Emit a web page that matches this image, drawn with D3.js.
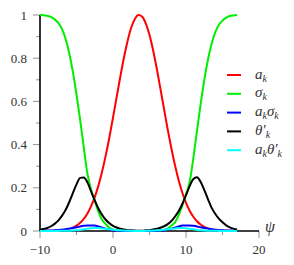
<!DOCTYPE html>
<html>
<head>
<meta charset="utf-8">
<script src="https://cdn.jsdelivr.net/npm/d3@7"></script>
<style>
  body { margin: 0; background: #fff; }
  text { font-family: "Liberation Serif", "Times New Roman", serif; }
</style>
</head>
<body>
<div id="chart"></div>
<script>
// psi grid, values
const psi = [-10, -9.5, -9, -8.5, -8, -7.5, -7, -6.5, -6, -5.5, -5, -4.5, -4, -3.5, -3, -2.5, -2, -1.5, -1, -0.5,
  0, 0.5, 1, 1.5, 2, 2.5, 3, 3.5, 4, 4.5, 5, 5.5, 6, 6.5, 7, 7.5, 8, 8.5, 9, 9.5,
  10, 10.5, 11, 11.5, 12, 12.5, 13, 13.5, 14, 14.5, 15, 15.5, 16, 16.5, 17];

const aK = [0, 0.0002, 0.0004, 0.0007, 0.0012, 0.002, 0.0037, 0.0062, 0.010, 0.016, 0.025, 0.038, 0.056, 0.081, 0.115, 0.157, 0.21, 0.274, 0.349, 0.433,
  0.525, 0.62, 0.714, 0.803, 0.88, 0.942, 0.982, 1.0, 0.992, 0.96, 0.907, 0.836, 0.751, 0.658, 0.563, 0.469, 0.382, 0.303, 0.234, 0.177,
  0.130, 0.094, 0.066, 0.045, 0.030, 0.019, 0.012, 0.0076, 0.0046, 0.0027, 0.0016, 0.0009, 0.0005, 0.0003, 0.0001];

const sigmaK = [1.0, 0.999, 0.996, 0.991, 0.98, 0.964, 0.936, 0.89, 0.824, 0.738, 0.632, 0.514, 0.386, 0.264, 0.192, 0.14, 0.09, 0.052, 0.032, 0.015,
  0.007, 0.003, 0.001, 0, 0, 0, 0, 0, 0, 0, 0, 0, 0.001, 0.002, 0.005, 0.011, 0.025, 0.04, 0.073, 0.12,
  0.17, 0.228, 0.336, 0.464, 0.586, 0.698, 0.792, 0.866, 0.92, 0.954, 0.974, 0.988, 0.995, 0.998, 1.0];

const aSigma = [0.001, 0.0015, 0.002, 0.0025, 0.003, 0.004, 0.006, 0.008, 0.011, 0.014, 0.017, 0.021, 0.024, 0.026, 0.026, 0.025, 0.021, 0.016, 0.011, 0.007,
  0.004, 0.002, 0.001, 0, 0, 0, 0, 0, 0, 0, 0, 0, 0.001, 0.002, 0.004, 0.007, 0.011, 0.016, 0.021, 0.025,
  0.026, 0.026, 0.024, 0.021, 0.017, 0.014, 0.011, 0.008, 0.006, 0.004, 0.003, 0.0025, 0.002, 0.0015, 0.001];

const thetaK = [0.006, 0.009, 0.014, 0.022, 0.033, 0.048, 0.07, 0.097, 0.133, 0.175, 0.216, 0.246, 0.248, 0.225, 0.183, 0.142, 0.104, 0.075, 0.052, 0.036,
  0.024, 0.016, 0.01, 0.007, 0.004, 0.003, 0.002, 0.001, 0.001, 0.003, 0.004, 0.007, 0.011, 0.015, 0.022, 0.032, 0.046, 0.067, 0.092, 0.125,
  0.166, 0.208, 0.24, 0.249, 0.228, 0.19, 0.148, 0.108, 0.08, 0.057, 0.04, 0.026, 0.017, 0.011, 0.007];

const aTheta = [0, 0, 0, 0, 0, 0.0005, 0.0008, 0.001, 0.0015, 0.002, 0.003, 0.005, 0.008, 0.011, 0.013, 0.014, 0.014, 0.012, 0.01, 0.008,
  0.006, 0.004, 0.003, 0.002, 0.001, 0.001, 0, 0, 0, 0.001, 0.001, 0.002, 0.003, 0.004, 0.006, 0.008, 0.01, 0.012, 0.014, 0.014,
  0.013, 0.011, 0.008, 0.005, 0.003, 0.002, 0.0015, 0.001, 0.0008, 0.0005, 0, 0, 0, 0, 0];

const xTicks = [-10, 0, 10, 20];
const xMinor = [-5, 5, 15];
const yTicks = [0, 0.2, 0.4, 0.6, 0.8, 1];
const yMinor = [0.1, 0.3, 0.5, 0.7, 0.9];

// legend labels as [text, kind] parts: "b" base, "sub" subscript
const series = [
  { values: aK, color: "#ff0000", label: [["a", "b"], ["k", "sub"]] },
  { values: sigmaK, color: "#00ee00", label: [["σ", "b"], ["k", "sub"]] },
  { values: aSigma, color: "#0000ff", label: [["a", "b"], ["k", "sub"], ["σ", "b"], ["k", "sub"]] },
  { values: thetaK, color: "#000000", label: [["θ′", "b"], ["k", "sub"]] },
  { values: aTheta, color: "#00ffff", label: [["a", "b"], ["k", "sub"], ["θ′", "b"], ["k", "sub"]] }
];

const W = 294, H = 265;
const svg = d3.select("#chart").append("svg")
  .attr("width", W).attr("height", H);

const x = d3.scaleLinear().domain([-10, 20]).range([40, 259]);
const y = d3.scaleLinear().domain([0, 1]).range([231, 15]);

const tickCol = "#777", labCol = "#333";

// y ticks
svg.selectAll(".ytick").data(yTicks).enter().append("line")
  .attr("x1", x(-10) - 7).attr("x2", x(-10))
  .attr("y1", d => y(d)).attr("y2", d => y(d))
  .attr("stroke", tickCol).attr("stroke-width", 0.8);
svg.selectAll(".yminor").data(yMinor).enter().append("line")
  .attr("x1", x(-10) - 4).attr("x2", x(-10))
  .attr("y1", d => y(d)).attr("y2", d => y(d))
  .attr("stroke", tickCol).attr("stroke-width", 0.8);
svg.selectAll(".ylab").data(yTicks).enter().append("text")
  .attr("x", 27).attr("y", d => y(d) + 4.5)
  .attr("text-anchor", "end").attr("font-size", 13).attr("fill", labCol)
  .text(d => d3.format("")(d));

// x ticks
svg.selectAll(".xtick").data(xTicks).enter().append("line")
  .attr("x1", d => x(d)).attr("x2", d => x(d))
  .attr("y1", y(0)).attr("y2", y(0) + 7)
  .attr("stroke", tickCol).attr("stroke-width", 0.8);
svg.selectAll(".xminor").data(xMinor).enter().append("line")
  .attr("x1", d => x(d)).attr("x2", d => x(d))
  .attr("y1", y(0)).attr("y2", y(0) + 4)
  .attr("stroke", tickCol).attr("stroke-width", 0.8);
svg.selectAll(".xlab").data(xTicks).enter().append("text")
  .attr("x", d => x(d)).attr("y", 254)
  .attr("text-anchor", "middle").attr("font-size", 13).attr("fill", labCol)
  .text(d => d < 0 ? "\u2212" + Math.abs(d) : d);

// axis lines
svg.append("line")
  .attr("x1", x(-10)).attr("x2", x(20)).attr("y1", y(0)).attr("y2", y(0))
  .attr("stroke", "#000").attr("stroke-width", 1.6);
svg.append("line")
  .attr("x1", x(-10)).attr("x2", x(-10)).attr("y1", y(0)).attr("y2", y(1))
  .attr("stroke", "#000").attr("stroke-width", 1.6);

svg.append("text")
  .attr("x", 265).attr("y", 232)
  .attr("font-size", 16).attr("font-style", "italic").attr("fill", labCol)
  .text("ψ");

// curves
const line = d3.line()
  .x((d, i) => x(psi[i]))
  .y(d => y(d))
  .curve(d3.curveMonotoneX);

svg.selectAll(".curve").data(series).enter().append("path")
  .attr("d", d => line(d.values))
  .attr("fill", "none")
  .attr("stroke", d => d.color)
  .attr("stroke-width", 2);

// legend: one text element per row, subscripts as tspans
const leg = svg.append("g");
series.forEach((s, i) => {
  const cy = 75 + i * 18.8;
  leg.append("line")
    .attr("x1", 227).attr("x2", 241).attr("y1", cy).attr("y2", cy)
    .attr("stroke", s.color).attr("stroke-width", 2);
  const txt = leg.append("text")
    .attr("x", 255).attr("y", cy + 3.5)
    .attr("font-size", 15).attr("font-style", "italic").attr("fill", labCol);
  let shift = 0; // current vertical offset from the baseline
  s.label.forEach(([t, kind]) => {
    if (kind === "b") {
      txt.append("tspan").attr("dy", -shift).attr("font-size", 15).text(t);
      shift = 0;
    } else {
      txt.append("tspan").attr("dy", 3 - shift).attr("font-size", 10).text(t);
      shift = 3;
    }
  });
});
</script>
</body>
</html>
